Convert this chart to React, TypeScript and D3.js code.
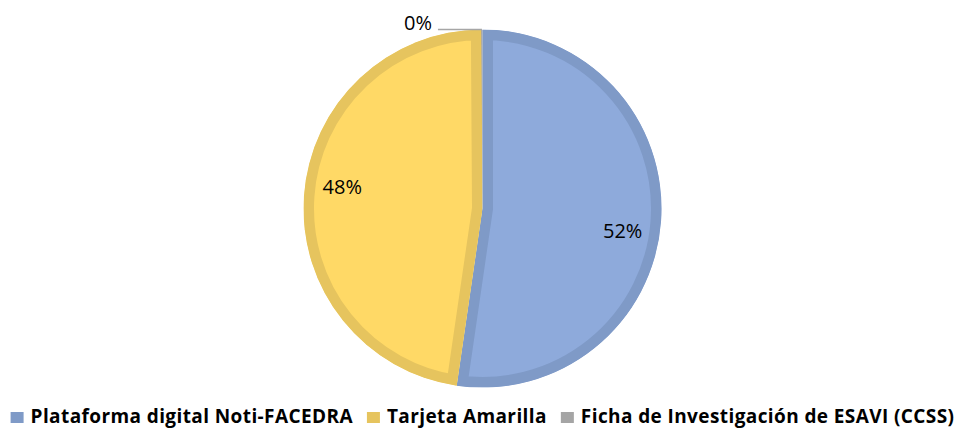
import React, { useEffect, useRef } from "react";
import * as d3 from "d3";

const categories = [
  "Plataforma digital Noti-FACEDRA",
  "Tarjeta Amarilla",
  "Ficha de Investigación de ESAVI (CCSS)",
];
const values = [52.3, 47.6, 0.1];
const labels = ["52%", "48%", "0%"];
const fills = ["#8eaadb", "#ffd966", "#a5a5a5"];
const borders = ["#7f9ac7", "#e6c45e", "#959595"];
const legendColors = ["#7f9ac7", "#e6c45e", "#a5a5a5"];

const width = 958;
const height = 428;

export default function App() {
  const ref = useRef<SVGSVGElement>(null);

  useEffect(() => {
    const svg = d3.select(ref.current);
    svg.selectAll("*").remove();

    const cx = 482.5;
    const cy = 208.5;
    const r = 179;
    const border = 10.5;

    const pie = d3.pie<number>().sort(null)(values);
    const arc = d3.arc<d3.PieArcDatum<number>>().innerRadius(0).outerRadius(r);

    const g = svg.append("g").attr("transform", `translate(${cx},${cy})`);
    const defs = svg.append("defs");

    pie.forEach((d, i) => {
      const id = "clip" + i;
      defs.append("clipPath").attr("id", id).append("path").attr("d", arc(d)!);
      g.append("path")
        .attr("d", arc(d)!)
        .attr("fill", fills[i])
        .attr("stroke", borders[i])
        .attr("stroke-width", border * 2)
        .attr("clip-path", `url(#${id})`);
    });

    // data labels
    const labelR = 142;
    const shift = (5 * Math.PI) / 180;
    pie.forEach((d, i) => {
      if (i === 2) return;
      const a = (d.startAngle + d.endAngle) / 2 + shift;
      g.append("text")
        .attr("x", labelR * Math.sin(a))
        .attr("y", -labelR * Math.cos(a))
        .attr("text-anchor", "middle")
        .attr("dy", "0.36em")
        .attr("font-family", "Open Sans")
        .attr("font-size", 20)
        .attr("fill", "#000")
        .text(labels[i]);
    });

    // small slice label with leader
    const small = pie[2];
    const sa = (small.startAngle + small.endAngle) / 2;
    const sx = r * Math.sin(sa);
    const sy = -r * Math.cos(sa);
    g.append("line")
      .attr("x1", sx)
      .attr("y1", sy)
      .attr("x2", sx - 44)
      .attr("y2", sy)
      .attr("stroke", "#a6a6a6")
      .attr("stroke-width", 1.5);
    g.append("text")
      .attr("x", sx - 50)
      .attr("y", sy - 7)
      .attr("text-anchor", "end")
      .attr("dy", "0.36em")
      .attr("font-family", "Open Sans")
      .attr("font-size", 20)
      .attr("fill", "#000")
      .text(labels[2]);

    // legend
    const box = 13;
    const boxGap = 7;
    const itemGap = 14;
    const legend = svg.append("g").attr("transform", `translate(0,416)`);
    const items = categories.map((c, i) => {
      const it = legend.append("g");
      it.append("rect")
        .attr("y", -4)
        .attr("width", box)
        .attr("height", 11)
        .attr("fill", legendColors[i]);
      const t = it
        .append("text")
        .attr("x", box + boxGap)
        .attr("dy", "0.36em")
        .attr("font-family", "Open Sans")
        .attr("font-weight", "bold")
        .attr("font-size", 19)
        .attr("letter-spacing", 0.4)
        .attr("fill", "#000")
        .text(c);
      const w = (t.node() as SVGTextElement).getComputedTextLength();
      return { it, w: box + boxGap + w };
    });
    const total = d3.sum(items, (d) => d.w) + itemGap * (items.length - 1);
    let x = cx - total / 2;
    items.forEach((d) => {
      d.it.attr("transform", `translate(${x},0)`);
      x += d.w + itemGap;
    });
  }, []);

  return (
    <svg
      ref={ref}
      width={width}
      height={height}
      style={{ position: "absolute", left: 0, top: 0, background: "#fff" }}
    />
  );
}
